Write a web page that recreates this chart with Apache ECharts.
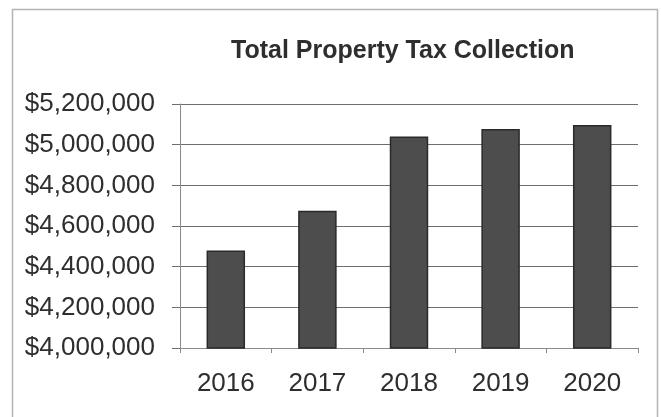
<!DOCTYPE html>
<html>
<head>
<meta charset="utf-8">
<script src="https://cdn.jsdelivr.net/npm/echarts@6/dist/echarts.min.js"></script>
<style>
  html, body { margin: 0; padding: 0; background: #fff; }
  #chart { width: 661px; height: 417px; }
</style>
</head>
<body>
<div id="chart"></div>
<script>
// Annual property tax collections
const years = ['2016', '2017', '2018', '2019', '2020'];
const collections = [4480000, 4675000, 5040000, 5077000, 5097000];

// Value axis range and step
const axisMin = 4000000;
const axisMax = 5200000;
const axisStep = 200000;

const fmtDollars = v => '$' + v.toLocaleString('en-US');

const chart = echarts.init(document.getElementById('chart'), null, { renderer: 'canvas' });

chart.setOption({
  backgroundColor: '#ffffff',
  animation: false,
  textStyle: { fontFamily: 'Liberation Sans, Arial, sans-serif' },
  graphic: [{
    type: 'rect',
    shape: { x: 12.5, y: 9.5, width: 645, height: 430 },
    style: { fill: 'none', stroke: '#b4b4b4', lineWidth: 1.5 },
    silent: true
  }],
  title: {
    text: 'Total Property Tax Collection',
    left: 226,
    top: 34,
    textStyle: {
      fontFamily: 'Liberation Sans, Arial, sans-serif',
      fontSize: 25,
      fontWeight: 'bold',
      color: '#2e2e2e'
    }
  },
  grid: { left: 180, right: 23, top: 104, bottom: 69, containLabel: false },
  xAxis: {
    type: 'category',
    data: years,
    boundaryGap: true,
    axisLine: { show: true, lineStyle: { color: '#8a8a8a', width: 1 } },
    axisTick: { show: true, length: 5, lineStyle: { color: '#8a8a8a' } },
    axisLabel: { fontSize: 26, color: '#2e2e2e', margin: 23 },
    splitLine: { show: false }
  },
  yAxis: {
    type: 'value',
    min: axisMin,
    max: axisMax,
    interval: axisStep,
    axisLine: { show: true, lineStyle: { color: '#8a8a8a', width: 1 } },
    axisTick: { show: true, length: 8, lineStyle: { color: '#6e6e6e' } },
    axisLabel: { fontSize: 26, color: '#2e2e2e', margin: 25, formatter: fmtDollars },
    splitLine: { show: true, lineStyle: { color: '#6e6e6e', width: 1 } }
  },
  series: [{
    type: 'bar',
    data: collections,
    barWidth: '42%',
    itemStyle: { color: '#4d4d4d', borderColor: '#2a2a2a', borderWidth: 1.5 }
  }]
});
</script>
</body>
</html>
